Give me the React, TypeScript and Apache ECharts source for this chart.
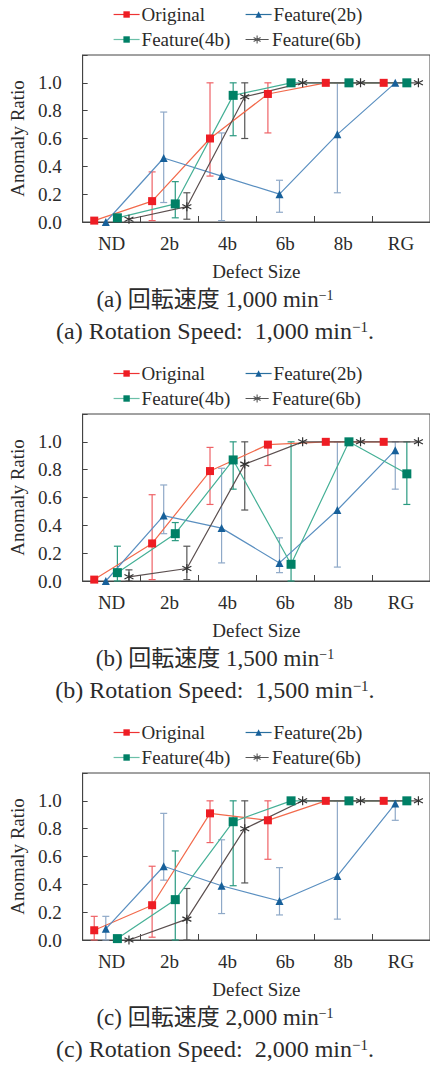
import React, { useEffect, useRef } from "react";
import * as echarts from "echarts";

const categories = ["ND", "2b", "4b", "6b", "8b", "RG"];
const seriesNames = ["Original", "Feature(2b)", "Feature(4b)", "Feature(6b)"];
const yTickValues = [0, 0.2, 0.4, 0.6, 0.8, 1.0];

// Chart (a) 1,000 min^-1
const orig1 = [0.01, 0.15, 0.6, 0.92, 1.0, 1.0];
const orig1Err = [null, [0.01, 0.36], [0.33, 1.0], [0.64, 1.0], null, null];
const f2b1 = [0.0, 0.46, 0.33, 0.2, 0.63, 1.0];
const f2b1Err = [null, [0.14, 0.79], [0.01, 0.64], [0.07, 0.3], [0.21, 1.0], null];
const f4b1 = [0.03, 0.13, 0.91, 1.0, 1.0, 1.0];
const f4b1Err = [null, [0.03, 0.29], [0.62, 1.0], null, null, null];
const f6b1 = [0.02, 0.11, 0.9, 1.0, 1.0, 1.0];
const f6b1Err = [null, [0.02, 0.21], [0.6, 1.0], null, null, null];

// Chart (b) 1,500 min^-1
const orig2 = [0.01, 0.27, 0.79, 0.98, 1.0, 1.0];
const orig2Err = [null, [0.01, 0.62], [0.55, 0.96], [0.83, 1.0], null, null];
const f2b2 = [0.0, 0.47, 0.38, 0.13, 0.51, 0.94];
const f2b2Err = [null, [0.34, 0.69], [0.13, 0.81], [0.06, 0.31], [0.1, 1.0], [0.66, 1.0]];
const f4b2 = [0.06, 0.34, 0.87, 0.12, 1.0, 0.77];
const f4b2Err = [[0, 0.25], [0.29, 0.42], [0.66, 1.0], [0, 1.0], null, [0.55, 1.0]];
const f6b2 = [0.03, 0.09, 0.84, 1.0, 1.0, 1.0];
const f6b2Err = [[0, 0.08], [0.01, 0.25], [0.51, 1.0], null, null, null];

// Chart (c) 2,000 min^-1
const orig3 = [0.07, 0.25, 0.91, 0.86, 1.0, 1.0];
const orig3Err = [[0, 0.17], [0.02, 0.53], [0.7, 1.0], [0.58, 1.0], null, null];
const f2b3 = [0.08, 0.53, 0.39, 0.28, 0.46, 0.98];
const f2b3Err = [[0, 0.17], [0.43, 0.91], [0.19, 0.72], [0.18, 0.52], [0.15, 1.0], [0.86, 1.0]];
const f4b3 = [0.01, 0.29, 0.85, 1.0, 1.0, 1.0];
const f4b3Err = [null, [0, 0.64], [0.39, 1.0], null, null, null];
const f6b3 = [0.0, 0.15, 0.8, 1.0, 1.0, 1.0];
const f6b3Err = [null, [0, 0.37], [0.41, 1.0], null, null, null];

const panels = [
  {
    values: [orig1, f2b1, f4b1, f6b1],
    errors: [orig1Err, f2b1Err, f4b1Err, f6b1Err],
    jp: "(a) 回転速度 1,000 min",
    en: "(a) Rotation Speed:  1,000 min",
  },
  {
    values: [orig2, f2b2, f4b2, f6b2],
    errors: [orig2Err, f2b2Err, f4b2Err, f6b2Err],
    jp: "(b) 回転速度 1,500 min",
    en: "(b) Rotation Speed:  1,500 min",
  },
  {
    values: [orig3, f2b3, f4b3, f6b3],
    errors: [orig3Err, f2b3Err, f4b3Err, f6b3Err],
    jp: "(c) 回転速度 2,000 min",
    en: "(c) Rotation Speed:  2,000 min",
  },
];

const ASTERISK = "path://M5,0 L5,10 M0.67,2.5 L9.33,7.5 M0.67,7.5 L9.33,2.5";
const ASTERISK_LEGEND =
  "path://M0,5 L26,5 M13,0.5 L13,9.5 M9.1,2.75 L16.9,7.25 M9.1,7.25 L16.9,2.75";

const styles = [
  { marker: "#ee1d24", line: "#f26a4c", legendLine: "#ee3333", err: "#ef6266", symbol: "rect", size: 8 },
  { marker: "#17609a", line: "#5a8fc0", legendLine: "#2a70a0", err: "#8fa9c8", symbol: "triangle", size: 8 },
  { marker: "#008066", line: "#45b096", legendLine: "#6cc0a8", err: "#2a9a80", symbol: "rect", size: 9 },
  { marker: "#333333", line: "#5b4f4f", legendLine: "#666666", err: "#555555", symbol: ASTERISK, size: 9 },
];

const SERIF = "Liberation Serif";
const TEXT = "#2b2b2b";
const PANEL_STEP = 359;
const GRID_LEFT = 74;
const GRID_TOP = 55;
const GRID_W = 360;
const GRID_H = 167;

export default function App() {
  const ref = useRef<HTMLDivElement>(null);

  useEffect(() => {
    if (!ref.current) return;
    const chart = echarts.init(ref.current, undefined, { renderer: "svg" });

    const grid: any[] = [];
    const xAxis: any[] = [];
    const yAxis: any[] = [];
    const series: any[] = [];
    const legend: any[] = [];
    const graphic: any[] = [];

    panels.forEach((panel, p) => {
      const off = p * PANEL_STEP;
      grid.push({
        left: GRID_LEFT,
        top: GRID_TOP + off,
        width: GRID_W,
        height: GRID_H,
        show: true,
        backgroundColor: "transparent",
        borderColor: "#444",
        borderWidth: 1,
      });
      xAxis.push({
        type: "value",
        gridIndex: p,
        min: 0,
        max: categories.length,
        interval: 1,
        axisLine: { show: true, lineStyle: { color: "#444", width: 1 } },
        axisTick: { show: true, inside: true, length: 6, lineStyle: { color: "#444" } },
        axisLabel: { show: false },
        splitLine: { show: false },
      });
      xAxis.push({
        type: "category",
        gridIndex: p,
        data: categories,
        boundaryGap: true,
        position: "bottom",
        axisLine: { show: false },
        axisTick: { show: false },
        axisLabel: { fontFamily: SERIF, fontSize: 19, color: TEXT, margin: 12 },
        name: "Defect Size",
        nameLocation: "middle",
        nameGap: 40,
        nameTextStyle: { fontFamily: SERIF, fontSize: 19, color: TEXT },
      });
      yAxis.push({
        type: "value",
        gridIndex: p,
        min: 0,
        max: 1.2,
        interval: 0.2,
        axisLine: { show: true, lineStyle: { color: "#444", width: 1 } },
        axisTick: { show: true, inside: true, length: 5, lineStyle: { color: "#444" } },
        axisLabel: {
          fontFamily: SERIF,
          fontSize: 19,
          color: TEXT,
          margin: 21,
          formatter: (v: number) => (yTickValues.some((t) => Math.abs(t - v) < 1e-6) ? v.toFixed(1) : ""),
        },
        splitLine: { show: false },
        name: "Anomaly Ratio",
        nameLocation: "middle",
        nameGap: 51,
        nameTextStyle: { fontFamily: SERIF, fontSize: 19, color: TEXT },
      });

      seriesNames.forEach((name, s) => {
        const st = styles[s];
        const pos = (i: number) => i + (s + 1) / 5;
        const errData = panel.errors[s]
          .map((e: any, i: number) => (e ? [pos(i), e[0], e[1]] : null))
          .filter((d: any) => d);
        series.push({
          type: "custom",
          name: name + " err",
          xAxisIndex: p * 2,
          yAxisIndex: p,
          z: 1,
          silent: true,
          encode: { x: 0, y: [1, 2] },
          data: errData,
          renderItem: (_params: any, api: any) => {
            const x = api.value(0);
            const lo = api.coord([x, api.value(1)]);
            const hi = api.coord([x, api.value(2)]);
            const hw = 3.5;
            const style = { stroke: st.err, lineWidth: 1.2 };
            return {
              type: "group",
              children: [
                { type: "line", shape: { x1: lo[0], y1: lo[1], x2: hi[0], y2: hi[1] }, style },
                { type: "line", shape: { x1: lo[0] - hw, y1: lo[1], x2: lo[0] + hw, y2: lo[1] }, style },
                { type: "line", shape: { x1: hi[0] - hw, y1: hi[1], x2: hi[0] + hw, y2: hi[1] }, style },
              ],
            };
          },
        });
        series.push({
          type: "line",
          name,
          xAxisIndex: p * 2,
          yAxisIndex: p,
          z: 3,
          data: panel.values[s].map((v: number, i: number) => [pos(i), v]),
          symbol: st.symbol,
          symbolSize: st.size,
          showAllSymbol: true,
          lineStyle: { color: st.line, width: 1.2 },
          itemStyle:
            st.symbol === ASTERISK
              ? { color: "rgba(0,0,0,0)", borderColor: st.marker, borderWidth: 1.2 }
              : { color: st.marker, borderWidth: 0 },
        });
      });

      const legendPos = [
        [113, 5],
        [245, 5],
        [113, 30],
        [245, 30],
      ];
      seriesNames.forEach((name, s) => {
        const st = styles[s];
        const item: any = { name };
        if (st.symbol === ASTERISK) {
          item.icon = ASTERISK_LEGEND;
          item.itemStyle = { color: "rgba(0,0,0,0)", borderColor: "#555555", borderWidth: 1.1 };
        }
        legend.push({
          data: [item],
          left: legendPos[s][0],
          top: legendPos[s][1] + off,
          orient: "horizontal",
          itemWidth: 26,
          itemHeight: 8,
          padding: 0,
          selectedMode: false,
          lineStyle: { color: st.legendLine, width: 1.2 },
          textStyle: { fontFamily: SERIF, fontSize: 19, color: TEXT, padding: [0, 0, 0, -3] },
        });
      });

      graphic.push({
        type: "text",
        left: "center",
        top: 288 + off,
        style: {
          text: panel.jp + "{sup|−1}",
          fontSize: 23,
          fontFamily: "Liberation Serif, Noto Sans CJK JP",
          fill: TEXT,
          rich: {
            sup: { fontSize: 14, verticalAlign: "top", fontFamily: SERIF, fill: TEXT },
          },
        },
      });
      graphic.push({
        type: "text",
        left: "center",
        top: 319 + off,
        style: {
          text: panel.en + "{sup|−1}.",
          fontSize: 24,
          fontFamily: SERIF,
          fill: TEXT,
          rich: {
            sup: { fontSize: 15, verticalAlign: "top", fontFamily: SERIF, fill: TEXT },
          },
        },
      });
    });

    chart.setOption({
      animation: false,
      backgroundColor: "#ffffff",
      grid,
      xAxis,
      yAxis,
      series,
      legend,
      graphic,
    });

    return () => chart.dispose();
  }, []);

  return (
    <div
      ref={ref}
      style={{ position: "absolute", left: 0, top: 0, width: 430, height: 1065, background: "#fff" }}
    />
  );
}
